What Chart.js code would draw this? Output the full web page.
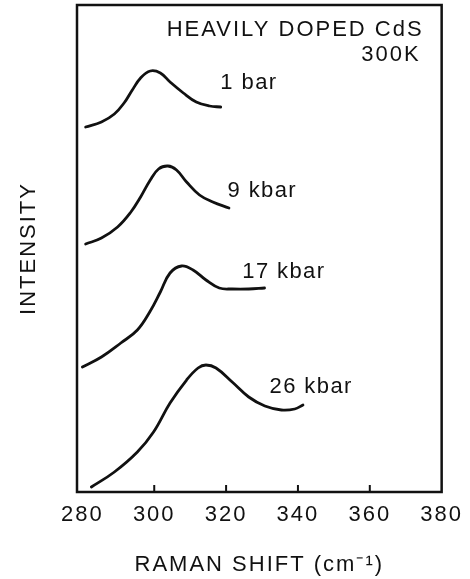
<!DOCTYPE html>
<html>
<head>
<meta charset="utf-8">
<script src="https://cdn.jsdelivr.net/npm/chart.js@4/dist/chart.umd.min.js"></script>
<style>
  html, body { margin: 0; background: #fff; }
</style>
</head>
<body>
<canvas id="myChart" width="470" height="579"></canvas>
<script>
// Raman spectra of heavily doped CdS at 300K (intensity in arbitrary units)
const pressures = ["1 bar", "9 kbar", "17 kbar", "26 kbar"];

const shift1bar = [280.9, 285.3, 288.9, 291.6, 293.9, 296.2, 298.9, 301.7, 304.4, 308.1, 311.7, 315.4, 318.5];
const int1bar = [365, 370, 378, 389, 402, 414, 421, 419, 410, 399, 390, 386, 385];

const shift9kbar = [280.9, 285.3, 289.8, 293.5, 296.2, 298.9, 301.2, 303.8, 306.2, 309.0, 312.6, 316.3, 320.8];
const int9kbar = [248, 254, 265, 280, 295, 312, 323, 326, 322, 310, 297, 290, 284];

const shift17kbar = [280.0, 285.3, 290.7, 295.3, 298.9, 301.7, 304.4, 307.6, 310.8, 314.4, 318.1, 321.7, 326.3, 330.7];
const int17kbar = [125, 135, 149, 162, 181, 200, 219, 226, 222, 212, 204, 203, 203, 204];

const shift26kbar = [282.5, 288.9, 295.3, 299.8, 304.4, 309.0, 312.2, 314.4, 317.2, 321.7, 326.3, 330.8, 335.4, 339.1, 341.4];
const int26kbar = [5, 20, 40, 60, 89, 112, 124, 127, 124, 110, 95, 86, 82, 83, 87];

const tickValues = [280, 300, 320, 340, 360, 380];
const innerTicks = [300, 320, 340, 360];

// where each pressure label sits, in axis units
const labelShift = [318.4, 320.4, 324.5, 332.1];
const labelInt = [409, 301, 220, 105];

const ink = "#111";
const fontFamily = "'Liberation Sans', Arial, Helvetica, sans-serif";

const toPoints = (xs, ys) => xs.map((v, i) => ({ x: v, y: ys[i] }));
const series = [
  toPoints(shift1bar, int1bar),
  toPoints(shift9kbar, int9kbar),
  toPoints(shift17kbar, int17kbar),
  toPoints(shift26kbar, int26kbar),
];

const paperText = {
  id: "paperText",
  beforeDraw(chart) {
    chart.ctx.letterSpacing = "2px";
  },
  afterDatasetsDraw(chart) {
    const { ctx, chartArea: a, scales: { x, y } } = chart;
    ctx.save();
    ctx.strokeStyle = ink;
    ctx.lineWidth = 2.5;
    ctx.strokeRect(a.left, a.top, a.right - a.left, a.bottom - a.top);

    ctx.lineWidth = 2;
    innerTicks.forEach((v) => {
      const px = x.getPixelForValue(v);
      ctx.beginPath();
      ctx.moveTo(px, a.bottom);
      ctx.lineTo(px, a.bottom - 7);
      ctx.stroke();
    });

    ctx.fillStyle = ink;
    ctx.font = "22px " + fontFamily;
    ctx.letterSpacing = "2px";
    ctx.textBaseline = "middle";
    ctx.textAlign = "right";
    ctx.fillText("HEAVILY DOPED CdS", a.right - 18, a.top + 25);
    ctx.fillText("300K", a.right - 21, a.top + 50);

    ctx.textAlign = "left";
    ctx.letterSpacing = "1.4px";
    pressures.forEach((p, i) => {
      ctx.fillText(p, x.getPixelForValue(labelShift[i]), y.getPixelForValue(labelInt[i]));
    });
    ctx.restore();
  },
};

const ctx = document.getElementById("myChart").getContext("2d");
const myChart = new Chart(ctx, {
  type: "line",
  data: {
    datasets: series.map((pts, i) => ({
      label: pressures[i],
      data: pts,
      borderColor: ink,
      borderWidth: 2.8,
      borderCapStyle: "round",
      pointRadius: 0,
      tension: 0.4,
      fill: false,
    })),
  },
  options: {
    responsive: false,
    animation: false,
    layout: { autoPadding: false, padding: { left: 0, top: 5, right: 22, bottom: 0 } },
    plugins: { legend: { display: false }, tooltip: { enabled: false } },
    scales: {
      x: {
        type: "linear",
        min: 278.5,
        max: 380,
        afterBuildTicks: (s) => {
          s.ticks = tickValues.map((v) => ({ value: v }));
        },
        afterFit: (s) => {
          s.height = 87;
        },
        grid: { display: false, drawTicks: false },
        border: { display: false },
        ticks: {
          autoSkip: false,
          maxRotation: 0,
          padding: 10,
          color: ink,
          font: { family: fontFamily, size: 22 },
        },
        title: {
          display: true,
          text: "RAMAN SHIFT (cm\u207B\u00B9)",
          color: ink,
          font: { family: fontFamily, size: 22 },
          padding: { top: 0, bottom: 1 },
        },
      },
      y: {
        min: 0,
        max: 487,
        afterFit: (s) => {
          s.width = 77;
        },
        grid: { display: false },
        border: { display: false },
        ticks: { display: false },
        title: {
          display: true,
          text: "INTENSITY",
          color: ink,
          font: { family: fontFamily, size: 22 },
          padding: { top: 16, bottom: 0 },
        },
      },
    },
  },
  plugins: [paperText],
});
</script>
</body>
</html>
